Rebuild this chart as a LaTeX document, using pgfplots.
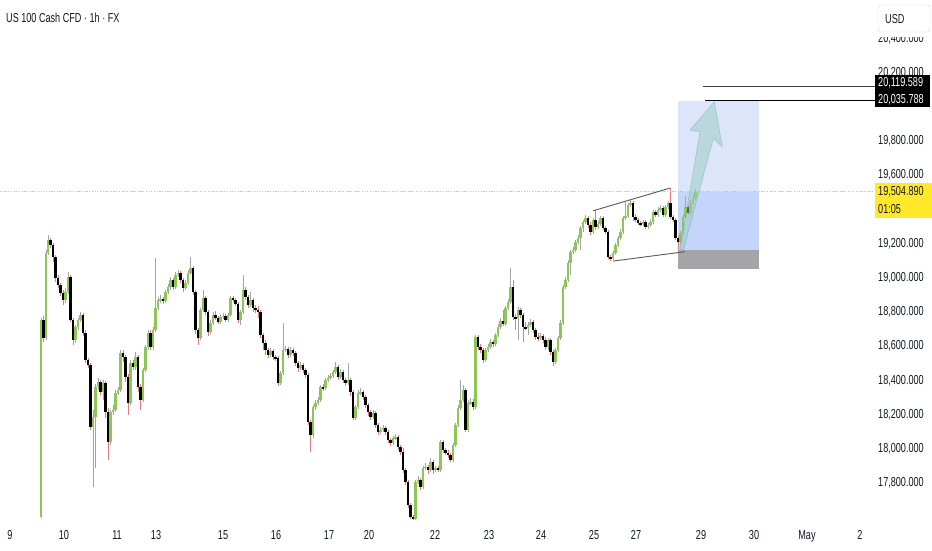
\documentclass[border=0pt]{standalone}
\usepackage{pgfplots}
\pgfplotsset{compat=1.18}
\usepackage{pgfplotstable}
\usepackage{fontspec}
\setmainfont[FakeStretch=0.7]{Liberation Sans}

\definecolor{tvtext}{HTML}{131722}
\definecolor{upbody}{RGB}{140,198,84}
\definecolor{upwick}{RGB}{165,165,165}
\definecolor{dnwick}{RGB}{232,120,130}
\definecolor{pricey}{RGB}{255,233,40}
\definecolor{priceline}{RGB}{242,205,30}
\definecolor{zoneA}{RGB}{221,229,251}
\definecolor{zoneB}{RGB}{196,212,250}
\definecolor{zoneS}{RGB}{165,165,168}
\definecolor{arrowc}{RGB}{150,205,195}

% hourly candles, US100 cash CFD: x = position on the time axis
\pgfplotstableread{
x o h l c
41 17601 18765 17595 18753
43.5 18753 18777 18625 18648
46 18648 19163 18636 19145
48 19145 19250 19133 19221
50.5 19221 19233 19174 19192
53 19192 19204 19092 19122
55.5 19122 19133 18976 18999
58 18999 19016 18940 18958
60.5 18958 18970 18894 18911
63 18911 18929 18841 18870
65.5 18870 18940 18853 18917
68 18917 19034 18905 19005
70.5 19005 19016 18742 18753
73 18753 18765 18607 18636
75.5 18636 18724 18619 18712
78 18712 18765 18695 18753
80.5 18753 18800 18742 18782
83 18782 18794 18660 18677
85.5 18677 18695 18502 18519
88 18519 18531 18472 18490
90.5 18490 18502 18110 18127
93 18127 18227 17777 18186
95.5 18186 18379 17888 18361
98 18361 18414 18344 18391
100.5 18391 18402 18315 18332
103 18332 18402 18285 18385
105.5 18385 18397 18180 18215
108 18215 18239 17935 18040
110.5 18040 18227 18022 18215
113 18215 18256 18198 18227
115.5 18227 18344 18215 18326
118 18326 18361 18315 18344
120.5 18344 18578 18332 18560
123 18560 18578 18508 18537
125.5 18537 18549 18391 18420
128 18420 18437 18198 18268
130.5 18268 18519 18256 18502
133 18502 18519 18461 18478
135.5 18478 18566 18461 18537
138 18537 18549 18332 18361
140.5 18361 18379 18227 18285
143 18285 18472 18274 18461
145.5 18461 18607 18449 18595
148 18595 18695 18578 18677
150.5 18677 18695 18578 18595
153 18595 18712 18578 18695
155.5 18695 19116 18683 18823
158 18823 18888 18812 18870
160.5 18870 18899 18853 18876
163 18876 18888 18847 18864
165.5 18864 18929 18853 18917
168 18917 18964 18905 18946
170.5 18946 19005 18929 18987
173 18987 18999 18929 18946
175.5 18946 19034 18935 19016
178 19016 19046 19005 19028
180.5 19028 19040 18970 18987
183 18987 18999 18917 18940
185.5 18940 18987 18929 18970
188 18970 19046 18958 19028
190.5 19028 19122 19016 19057
193 19057 19069 18899 18917
195.5 18917 18929 18671 18695
198 18695 18706 18607 18648
200.5 18648 18823 18636 18812
203 18812 18929 18800 18882
205.5 18882 18894 18782 18800
208 18800 18812 18660 18683
210.5 18683 18753 18671 18736
213 18736 18800 18724 18782
215.5 18782 18806 18753 18765
218 18765 18777 18730 18742
220.5 18742 18788 18730 18771
223 18771 18794 18759 18777
225.5 18777 18788 18742 18753
228 18753 18794 18742 18782
230.5 18782 18894 18771 18882
233 18882 18894 18859 18870
235.5 18870 18882 18835 18847
238 18847 18859 18736 18753
240.5 18753 18812 18724 18800
243 18800 19016 18788 18929
245.5 18929 18946 18870 18888
248 18888 18899 18823 18841
250.5 18841 18917 18829 18870
253 18870 18882 18800 18823
255.5 18823 18841 18794 18812
258 18812 18835 18765 18800
260.5 18800 18812 18648 18666
263 18666 18677 18578 18619
265.5 18619 18636 18549 18578
268 18578 18590 18531 18549
270.5 18549 18590 18537 18572
273 18572 18584 18519 18537
275.5 18537 18549 18513 18531
278 18531 18543 18367 18385
280.5 18385 18455 18373 18443
283 18443 18736 18432 18578
285.5 18578 18601 18566 18584
288 18584 18595 18531 18549
290.5 18549 18595 18537 18578
293 18578 18590 18543 18560
295.5 18560 18572 18484 18502
298 18502 18513 18449 18472
300.5 18472 18508 18461 18490
303 18490 18502 18443 18461
305.5 18461 18472 18414 18432
308 18432 18443 18139 18157
310.5 18157 18168 17981 18081
313 18081 18256 18063 18245
315.5 18245 18285 18227 18268
318 18268 18303 18256 18285
320.5 18285 18373 18274 18361
323 18361 18379 18338 18356
325.5 18356 18414 18344 18402
328 18402 18432 18391 18414
330.5 18414 18443 18402 18426
333 18426 18461 18414 18449
335.5 18449 18508 18437 18478
338 18478 18490 18402 18420
340.5 18420 18467 18408 18449
343 18449 18461 18385 18402
345.5 18402 18414 18367 18385
348 18385 18502 18373 18402
350.5 18402 18414 18309 18332
353 18332 18344 18168 18180
355.5 18180 18256 18168 18245
358 18245 18344 18233 18326
360.5 18326 18356 18315 18332
363 18332 18344 18285 18303
365.5 18303 18315 18239 18256
368 18256 18268 18192 18215
370.5 18215 18227 18168 18186
373 18186 18227 18174 18209
375.5 18209 18221 18122 18139
378 18139 18151 18081 18098
380.5 18098 18127 18087 18110
383 18110 18139 18098 18122
385.5 18122 18133 18081 18098
388 18098 18110 18034 18052
390.5 18052 18063 18016 18034
393 18034 18075 18022 18063
395.5 18063 18087 18052 18069
398 18069 18081 17993 18011
400.5 18011 18022 17964 17981
403 17981 18005 17858 17876
405.5 17876 17888 17788 17806
408 17806 17818 17654 17671
410.5 17671 17683 17590 17601
413 17601 17613 17584 17590
415.5 17590 17818 17584 17806
418 17806 17841 17794 17818
420.5 17818 17829 17759 17777
423 17777 17899 17765 17888
425.5 17888 17917 17876 17894
428 17894 17905 17853 17876
430.5 17876 17946 17864 17923
433 17923 17935 17853 17876
435.5 17876 17899 17864 17888
438 17888 17899 17864 17876
440.5 17876 18052 17864 18040
443 18040 18052 17975 17993
445.5 17993 18005 17964 17975
448 17975 17993 17946 17964
450.5 17964 17975 17923 17935
453 17935 18034 17923 18022
455.5 18022 18151 18011 18139
458 18139 18256 18127 18239
460.5 18239 18402 18227 18285
463 18285 18373 18274 18344
465.5 18344 18356 18098 18110
468 18110 18285 18098 18268
470.5 18268 18297 18256 18274
473 18274 18291 18227 18245
475.5 18245 18666 18233 18654
478 18654 18666 18578 18595
480.5 18595 18613 18560 18578
483 18578 18590 18502 18519
485.5 18519 18590 18508 18578
488 18578 18613 18566 18595
490.5 18595 18642 18584 18625
493 18625 18636 18595 18613
495.5 18613 18677 18601 18666
498 18666 18730 18654 18712
500.5 18712 18765 18701 18747
503 18747 18812 18718 18730
505.5 18730 18835 18718 18823
508 18823 18876 18812 18859
510.5 18859 19057 18847 18946
513 18946 18987 18753 18771
515.5 18771 18788 18695 18765
518 18765 18829 18636 18812
520.5 18812 18823 18765 18782
523 18782 18794 18625 18712
525.5 18712 18742 18695 18706
528 18706 18742 18666 18724
530.5 18724 18759 18712 18742
533 18742 18753 18677 18695
535.5 18695 18706 18636 18654
538 18654 18677 18630 18648
540.5 18648 18677 18636 18660
543 18660 18671 18619 18636
545.5 18636 18654 18578 18595
548 18595 18648 18578 18636
550.5 18636 18648 18549 18566
553 18566 18578 18484 18508
555.5 18508 18590 18496 18578
558 18578 18660 18566 18648
560.5 18648 18753 18636 18736
563 18736 18958 18724 18946
565.5 18946 19005 18935 18987
568 18987 19104 18976 19087
570.5 19087 19163 19016 19151
573 19151 19180 19139 19163
575.5 19163 19221 19151 19209
578 19209 19250 19198 19233
580.5 19233 19303 19163 19291
583 19291 19338 19268 19326
585.5 19326 19367 19315 19350
588 19350 19361 19291 19309
590.5 19309 19326 19250 19268
593 19268 19350 19256 19338
595.5 19338 19397 19280 19297
598 19297 19332 19285 19315
600.5 19315 19361 19303 19350
603 19350 19361 19280 19291
605.5 19291 19303 19256 19268
608 19268 19280 19110 19122
610.5 19122 19133 19098 19116
613 19116 19157 19104 19145
615.5 19145 19204 19133 19192
618 19192 19244 19180 19233
620.5 19233 19285 19221 19268
623 19268 19361 19256 19350
625.5 19350 19443 19338 19361
628 19361 19437 19350 19426
630.5 19426 19455 19414 19437
633 19437 19449 19332 19356
635.5 19356 19373 19326 19338
638 19338 19350 19309 19320
640.5 19320 19332 19303 19315
643 19315 19338 19303 19326
645.5 19326 19338 19285 19297
648 19297 19320 19285 19309
650.5 19309 19344 19297 19326
653 19326 19397 19315 19385
655.5 19385 19397 19356 19367
658 19367 19414 19356 19397
660.5 19397 19426 19385 19408
663 19408 19420 19356 19367
665.5 19367 19426 19356 19414
668 19414 19449 19402 19437
670.5 19437 19525 19344 19356
673 19356 19367 19326 19338
675.5 19338 19350 19221 19233
678 19233 19244 19163 19209
680.5 19209 19274 19198 19262
683 19262 19367 19250 19356
685.5 19356 19478 19344 19414
688 19414 19426 19367 19379
690.5 19379 19455 19367 19437
693 19437 19484 19426 19467
695.5 19467 19519 19455 19504.89
}\candles

\begin{document}
\begin{tikzpicture}
\path[use as bounding box, fill=white] (0,0) rectangle (932pt,-550pt);
\begin{axis}[
  at={(0,0)}, anchor=north west,
  scale only axis, width=868pt, height=522pt,
  xmin=0, xmax=868, ymin=17572, ymax=20625,
  clip=false,
  axis line style={draw=none},
  major tick length=0pt,
  xtick={10,64,117,156,223,276,329,369,435,489,541,594,636,701,754,807,860},
  xticklabels={9,10,11,13,15,16,17,20,22,23,24,25,27,29,30,May,2},
  ytick={17800,18000,18200,18400,18600,18800,19000,19200,19600,19800,20200,20400},
  yticklabel pos=right,
  scaled y ticks=false,
  ticklabel style={font=\fontsize{13}{15}\selectfont, text=tvtext, inner sep=0pt},
  xticklabel style={anchor=base, yshift=-17.5pt},
  yticklabel style={anchor=west, xshift=10pt,
    /pgf/number format/.cd, fixed, fixed zerofill, precision=3,
    1000 sep={,}, assume math mode=true},
]
% long position tool
\addplot[fill=zoneA, draw=none, forget plot] coordinates
  {(678,20035.788) (759,20035.788) (759,19504.89) (678,19504.89)} -- cycle;
\addplot[fill=zoneB, draw=none, forget plot] coordinates
  {(678,19504.89) (759,19504.89) (759,19162.6) (678,19162.6)} -- cycle;
\addplot[fill=zoneS, draw=none, forget plot] coordinates
  {(678,19162.6) (759,19162.6) (759,19050) (678,19050)} -- cycle;

% wicks
\addplot[draw=none, mark=none, forget plot,
  restrict expr to domain={\thisrow{c}-\thisrow{o}}{0:100000},
  error bars/.cd, y dir=both, y explicit, error mark=none,
  error bar style={draw=upwick, line width=1pt}]
  table[x=x, y expr={(\thisrow{h}+\thisrow{l})/2},
        y error expr={(\thisrow{h}-\thisrow{l})/2}] {\candles};
\addplot[draw=none, mark=none, forget plot,
  restrict expr to domain={\thisrow{c}-\thisrow{o}}{-100000:-0.001},
  error bars/.cd, y dir=both, y explicit, error mark=none,
  error bar style={draw=dnwick, line width=1pt}]
  table[x=x, y expr={(\thisrow{h}+\thisrow{l})/2},
        y error expr={(\thisrow{h}-\thisrow{l})/2}] {\candles};
% bodies
\addplot[draw=none, mark=none, forget plot,
  restrict expr to domain={\thisrow{c}-\thisrow{o}}{0:100000},
  error bars/.cd, y dir=both, y explicit, error mark=none,
  error bar style={draw=upbody, line width=2.5pt}]
  table[x=x, y expr={(\thisrow{o}+\thisrow{c})/2},
        y error expr={max(abs(\thisrow{c}-\thisrow{o})/2,4)}] {\candles};
\addplot[draw=none, mark=none, forget plot,
  restrict expr to domain={\thisrow{c}-\thisrow{o}}{-100000:-0.001},
  error bars/.cd, y dir=both, y explicit, error mark=none,
  error bar style={draw=black, line width=2.5pt}]
  table[x=x, y expr={(\thisrow{o}+\thisrow{c})/2},
        y error expr={max(abs(\thisrow{c}-\thisrow{o})/2,4)}] {\candles};

% current price line
\addplot[priceline, dash pattern=on 1.2pt off 1.5pt, line width=1.1pt] coordinates {(0,19504.89) (875,19504.89)};
% wedge
\addplot[black!65, line width=0.9pt] coordinates {(593,19392) (670,19525)};
\addplot[black!65, line width=0.9pt] coordinates {(613,19098) (685,19153)};
% arrow
\addplot[fill=arrowc, fill opacity=0.5, draw=arrowc!75!black, draw opacity=0.4, line width=0.6pt]
  coordinates {(680,19165.5) (700,19854.4) (690,19864.4) (714.3,20029.9)
               (722.3,19766.7) (713.3,19815.8) (683.5,19165.5)} -- cycle;
% target lines
\addplot[black!75, line width=1.1pt] coordinates {(703,20119.589) (875,20119.589)};
\addplot[black, line width=1.1pt] coordinates {(705,20035.788) (875,20035.788)};
\end{axis}

\begin{scope}[every node/.style={inner sep=0pt, anchor=west, font=\fontsize{13}{15}\selectfont}]
\node[text=tvtext] at (6pt,-18pt) {US 100 Cash CFD · 1h · FX};
\fill[white] (870pt,0pt) rectangle (932pt,-37pt);
\draw[draw=black!15, fill=white, rounded corners=3pt] (878pt,-5pt) rectangle (930pt,-32pt);
\node[text=tvtext] at (885pt,-19pt) {USD};
\fill[black] (875pt,-75pt) rectangle (930pt,-107pt);
\node[text=white] at (878pt,-82.5pt) {20,119.589};
\node[text=white] at (878pt,-99.5pt) {20,035.788};
\fill[pricey] (875pt,-183pt) rectangle (932pt,-218pt);
\node[text=tvtext] at (878pt,-192pt) {19,504.890};
\node[text=tvtext] at (878pt,-209pt) {01:05};
\end{scope}
\end{tikzpicture}
\end{document}
